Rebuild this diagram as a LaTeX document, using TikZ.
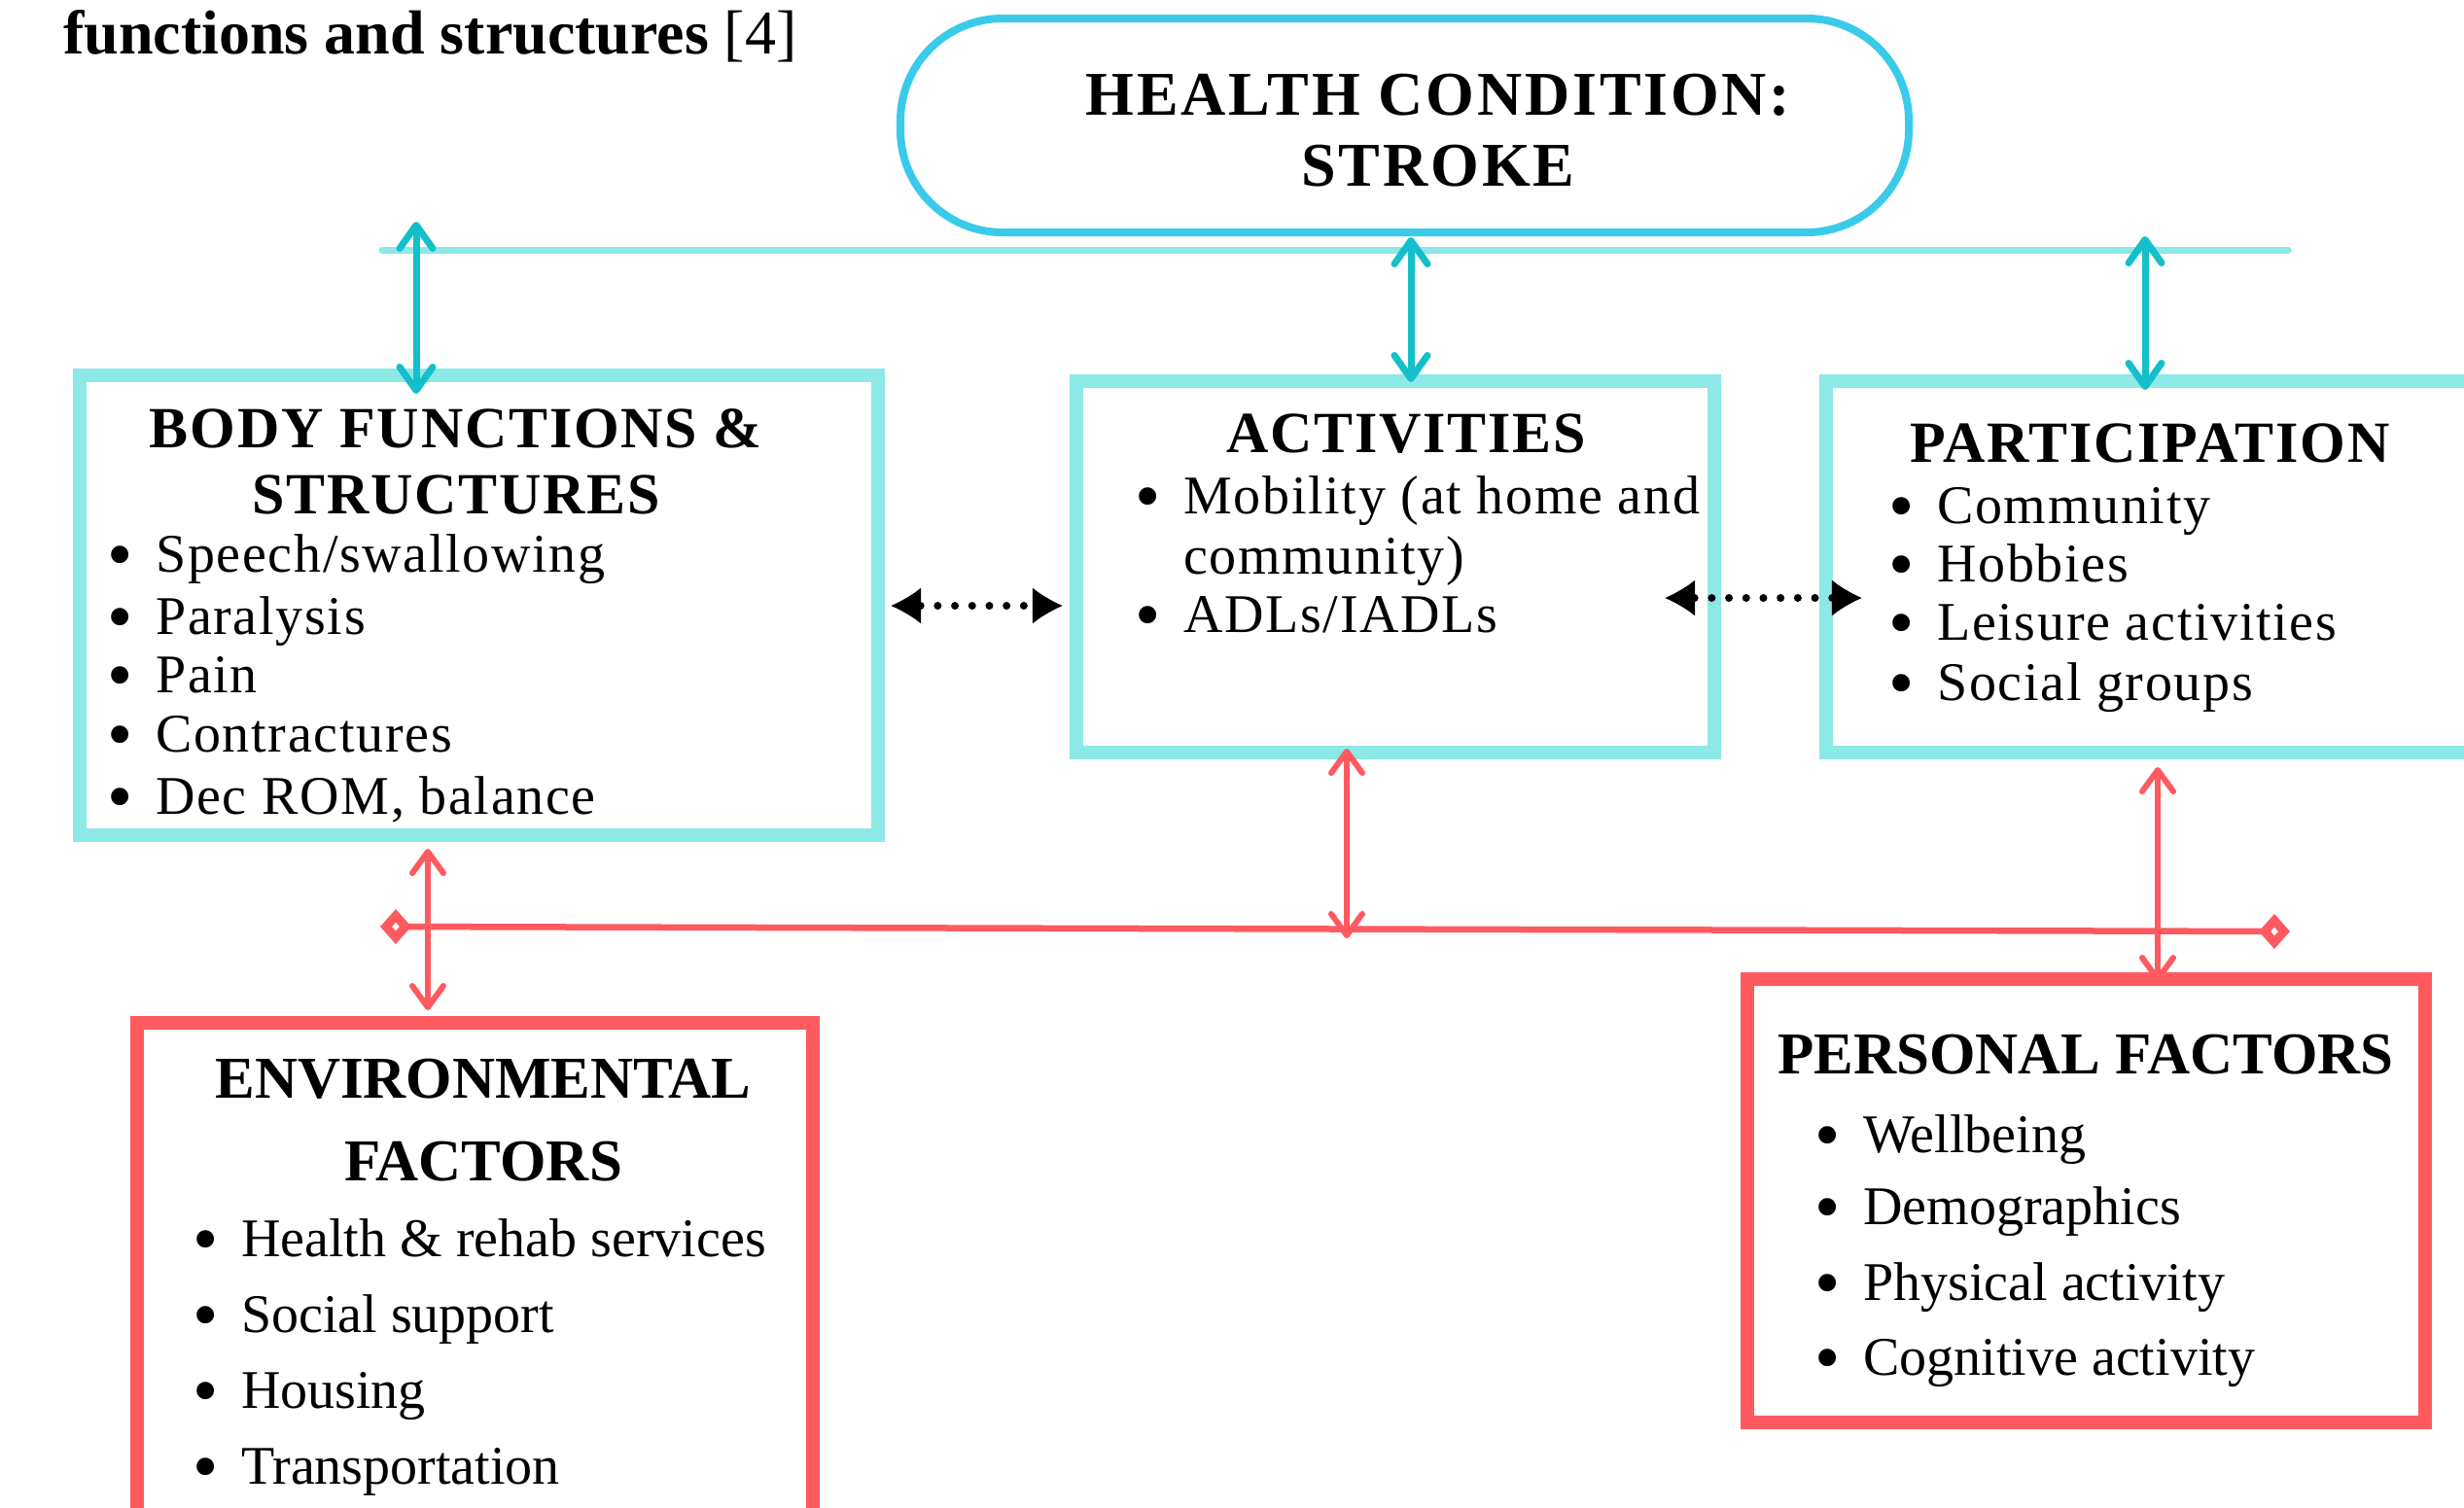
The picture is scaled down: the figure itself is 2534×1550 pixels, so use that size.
\documentclass[tikz,border=0pt]{standalone}
\usepackage{fontspec}
\setmainfont{Liberation Serif}
\newfontfamily\spacedfont{Liberation Serif}[LetterSpace=3]
\newfontfamily\widefont{Liberation Serif}[LetterSpace=4.4]
\usetikzlibrary{arrows.meta}

\definecolor{hcblue}{HTML}{3ACBEB}
\definecolor{paleteal}{HTML}{8DE9E6}
\definecolor{icfteal}{HTML}{13BFCA}
\definecolor{coral}{HTML}{FF5A5F}

% list bullet: a large dot followed by the hanging indent
\newcommand\bul{\makebox[50pt][l]{\smash{\raisebox{-7pt}{\fontsize{75}{75}\selectfont •}}}}

\begin{document}
\begin{tikzpicture}[x=1pt,y=-1pt,
  healthbox/.style={draw=hcblue, line width=8pt, rounded corners=105pt, fill=white,
    minimum width=1037pt, minimum height=220pt, inner sep=0pt},
  palebox/.style={draw=paleteal, line width=14pt, inner sep=0pt},
  redbox/.style={draw=coral, line width=14pt, inner sep=0pt},
  busline/.style={draw=paleteal, line width=7pt, line cap=round},
  tealarrow/.style={draw=icfteal, line width=7pt, line cap=round,
    {Straight Barb[length=24pt,width=34pt,round]}-{Straight Barb[length=24pt,width=34pt,round]}},
  redarrow/.style={draw=coral, line width=6pt, line cap=round,
    {Straight Barb[length=22pt,width=32pt,round]}-{Straight Barb[length=22pt,width=32pt,round]}},
  redbar/.style={draw=coral, line width=6.5pt,
    {Diamond[open,length=32pt,width=36pt,line width=9pt]}-{Diamond[open,length=32pt,width=36pt,line width=9pt]}},
  dotarrow/.style={draw=black, line width=8pt, line cap=round, dash pattern=on 0pt off 17.7pt,
    {Latex[length=31pt,width=37pt,line width=1pt,round]}-{Latex[length=31pt,width=37pt,line width=1pt,round]}},
  toptitle/.style={inner sep=0pt, anchor=base, align=center,
    font=\spacedfont\bfseries\fontsize{60}{68}\selectfont},
  topitem/.style={inner sep=0pt, anchor=base west, font=\spacedfont\fontsize{56}{62}\selectfont},
  bottitle/.style={inner sep=0pt, anchor=base, align=center,
    font=\bfseries\fontsize{61}{85}\selectfont},
  botitem/.style={inner sep=0pt, anchor=base west, font=\fontsize{56}{77}\selectfont}
]
\useasboundingbox (0,0) rectangle (2534,1550);
\clip (0,0) rectangle (2534,1550);

% heading fragment above the chart
\node[inner sep=0pt, anchor=base west, font=\fontsize{64}{70}\selectfont] (hdr) at (65,55)
  {\textbf{functions and structures} [4]};

% health condition and the bus below it (multi-line nodes sit on their last baseline)
\node[healthbox] (hc) at (1444.5,129) {};
\node[inner sep=0pt, anchor=base, align=center, font=\widefont\bfseries\fontsize{64}{73}\selectfont]
  (hctext) at (1479,191) {HEALTH CONDITION:\\STROKE};
\coordinate (busL) at (393,257);
\coordinate (busR) at (2353,257);
\draw[busline] (busL) -- (busR);

% functioning boxes
\node[palebox, minimum width=821pt, minimum height=473pt] (body) at (492.5,622.5) {};
\node[palebox, minimum width=656pt, minimum height=382pt] (act) at (1435,583) {};
\node[palebox, minimum width=722pt, minimum height=382pt] (part) at (2239,583) {};

% contextual factor boxes
\node[redbox, minimum width=695pt, minimum height=568pt] (env) at (488.5,1336) {};
\node[redbox, minimum width=697pt, minimum height=456pt] (pers) at (2145.5,1235) {};

% body functions & structures
\node[toptitle] (bodyT) at (469,528) {BODY FUNCTIONS \&\\STRUCTURES};
\node[topitem] (b1) at (110,588) {\bul Speech/swallowing};
\node[topitem] (b2) at (110,652) {\bul Paralysis};
\node[topitem] (b3) at (110,712) {\bul Pain};
\node[topitem] (b4) at (110,773) {\bul Contractures};
\node[topitem] (b5) at (110,837) {\bul Dec ROM, balance};

% activities
\node[toptitle] (actT) at (1446,465) {ACTIVITIES};
\node[topitem] (a1) at (1167,528) {\bul Mobility (at home and};
\node[topitem] (a2) at (1167,590) {\makebox[50pt]{}community)};
\node[topitem] (a3) at (1167,650) {\bul ADLs/IADLs};

% participation
\node[toptitle] (partT) at (2211,475) {PARTICIPATION};
\node[topitem] (p1) at (1942,538) {\bul Community};
\node[topitem] (p2) at (1942,598) {\bul Hobbies};
\node[topitem] (p3) at (1942,658) {\bul Leisure activities};
\node[topitem] (p4) at (1942,720) {\bul Social groups};

% environmental factors
\node[bottitle] (envT) at (497,1214) {ENVIRONMENTAL\\FACTORS};
\node[botitem] (e1) at (198,1292) {\bul Health \& rehab services};
\node[botitem] (e2) at (198,1370) {\bul Social support};
\node[botitem] (e3) at (198,1448) {\bul Housing};
\node[botitem] (e4) at (198,1526) {\bul Transportation};

% personal factors
\node[bottitle] (persT) at (2145,1104) {PERSONAL FACTORS};
\node[botitem] (f1) at (1866,1185) {\bul Wellbeing};
\node[botitem] (f2) at (1866,1259) {\bul Demographics};
\node[botitem] (f3) at (1866,1337) {\bul Physical activity};
\node[botitem] (f4) at (1866,1414) {\bul Cognitive activity};

% links from the health condition bus
\coordinate (c1) at (428,228);
\coordinate (c2) at (1451,244);
\coordinate (c3) at (2206,243);
\draw[tealarrow] (c1) -- ([yshift=-26pt]c1 |- body.north);
\draw[tealarrow] (c2) -- ([yshift=-8pt]c2 |- act.north);
\draw[tealarrow] (c3) -- ([yshift=-16pt]c3 |- part.north);

% interactions between functioning components
\coordinate (d1) at (0,623);
\coordinate (d2) at (0,615);
\draw[dotarrow] ([xshift=7pt]body.east |- d1) -- ([xshift=-8pt]act.west |- d1);
\draw[dotarrow] ([xshift=-57pt]act.east |- d2) -- ([xshift=43pt]part.west |- d2);

% contextual factors bus and links
\coordinate (rL) at (391,953);
\coordinate (rR) at (2355,958);
\draw[redbar] (rL) -- (rR);
\coordinate (x1) at (440,0);
\coordinate (x2) at (1385,0);
\coordinate (x3) at (2219,0);
\coordinate (m2) at (1385,965);
\draw[redarrow] ([yshift=-7pt]x1 |- body.south) -- ([yshift=6pt]x1 |- env.north);
\draw[redarrow] ([yshift=11pt]x2 |- act.south) -- (m2);
\draw[redarrow] ([yshift=-8pt]x3 |- part.south) -- ([yshift=-10pt]x3 |- pers.north);
\end{tikzpicture}
\end{document}
